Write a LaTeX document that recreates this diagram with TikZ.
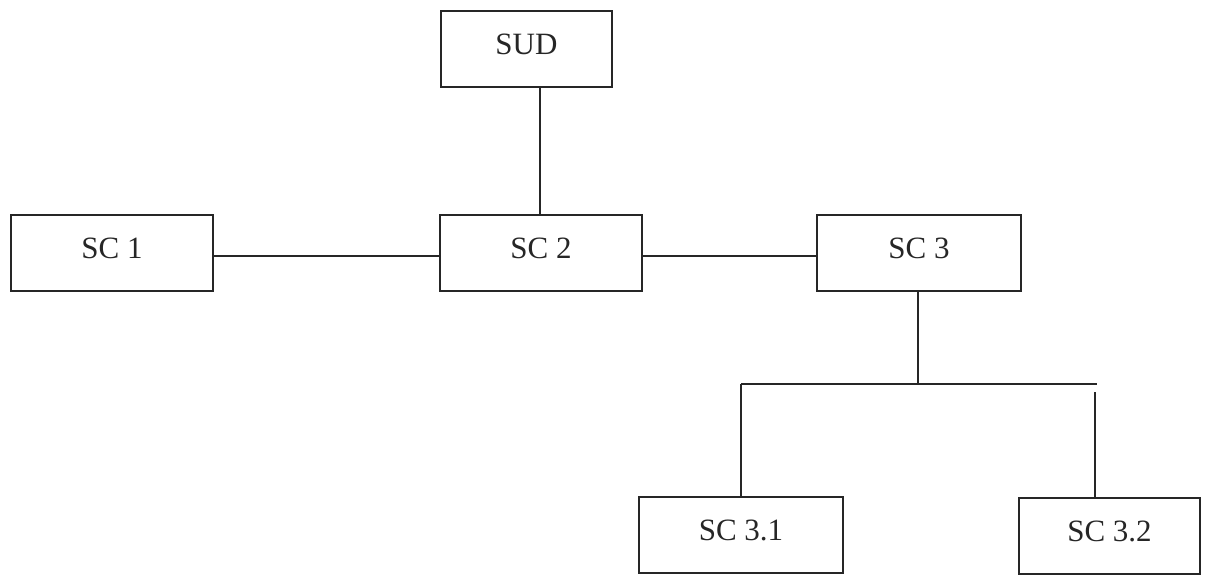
\documentclass[tikz,border=0pt]{standalone}
\usepackage{fontspec}
\setmainfont{Liberation Serif}
\begin{document}
\begin{tikzpicture}[x=1pt,y=-1pt,
  box/.style={draw=black!85, line width=2.9pt, rectangle, inner sep=0pt, outer sep=0pt,
    minimum height=76pt, text height=22pt, text depth=12pt,
    font=\fontsize{31}{36}\selectfont, text=black!85},
  link/.style={draw=black!85, line width=2.9pt}]
\useasboundingbox[fill=white] (0,0) rectangle (1205,574);
\node[box, minimum width=171pt] (SUD) at (526.5,49) {SUD};
\node[box, minimum width=202pt] (SC1) at (112,253) {SC 1};
\node[box, minimum width=202pt] (SC2) at (541,253) {SC 2};
\node[box, minimum width=204pt] (SC3) at (919,253) {SC 3};
\node[box, minimum width=204pt] (SC31) at (741,535) {SC 3.1};
\node[box, minimum width=181pt] (SC32) at (1109.5,536) {SC 3.2};
\coordinate (J) at (918,384);
\coordinate (L) at (741,384);
\coordinate (R) at (1097,384);
\coordinate (Rv) at (1095,392);
\draw[link] (SC2.north -| 540,0) -- (SUD.south -| 540,0);
\draw[link] ([yshift=-3pt]SC1.east) -- ([yshift=-3pt]SC2.west);
\draw[link] ([yshift=-3pt]SC2.east) -- ([yshift=-3pt]SC3.west);
\draw[link] (SC3.south -| J) -- (J);
\draw[link] (L) -- (R);
\draw[link] (L) -- (SC31.north);
\draw[link] (Rv) -- (Rv |- SC32.north);
\end{tikzpicture}
\end{document}
